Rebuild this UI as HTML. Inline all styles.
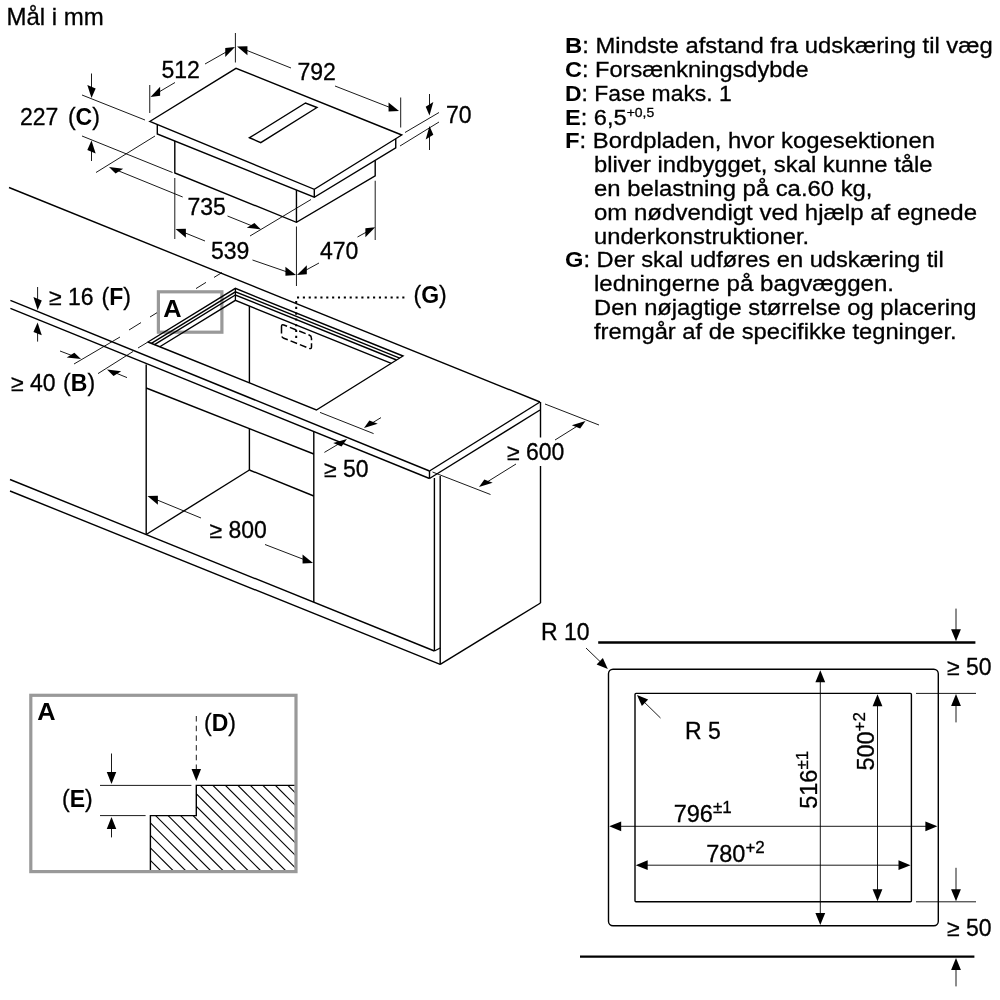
<!DOCTYPE html>
<html><head><meta charset="utf-8"><title>Mål i mm</title>
<style>
html,body{margin:0;padding:0;background:#fff;}
body{width:1000px;height:1000px;overflow:hidden;}
svg{display:block;will-change:transform;font-family:"Liberation Sans",sans-serif;}
</style></head><body>
<svg width="1000" height="1000" viewBox="0 0 1000 1000">
<rect x="0" y="0" width="1000" height="1000" fill="#fff"/>
<g stroke="#000" fill="none">
<text x="6.50" y="25.00" font-size="24" text-anchor="start" fill="#000" stroke="#000" stroke-width="0.3" >Mål i mm</text>
<path d="M149.75,121.50 L236.00,68.30 L401.75,135.00 L314.30,189.30 Z" stroke-width="1.4" fill="none" />
<path d="M157.30,124.61 L157.30,134.00 L314.30,197.25 L395.75,147.75 L395.75,138.73" stroke-width="1.4" fill="none" />
<line x1="314.30" y1="189.30" x2="314.30" y2="197.25" stroke-width="1.4" />
<path d="M174.80,141.05 L174.80,173.00 L296.45,222.30 L375.20,175.80 L375.20,160.24" stroke-width="1.4" fill="none" />
<line x1="296.45" y1="190.06" x2="296.45" y2="222.30" stroke-width="1.4" />
<path d="M249.50,137.75 L260.75,142.70 L317.00,107.50 L305.50,103.00 Z" stroke-width="1.4" fill="none" />
<line x1="235.40" y1="33.00" x2="235.40" y2="62.50" stroke-width="0.9" />
<line x1="149.75" y1="85.00" x2="149.75" y2="113.00" stroke-width="0.9" />
<line x1="175.00" y1="82.50" x2="158.21" y2="92.44" stroke-width="0.9" />
<polygon points="150.50,97.00 160.14,95.80 160.14,86.80" fill="#000" stroke="none"/>
<line x1="205.00" y1="64.00" x2="227.20" y2="51.42" stroke-width="0.9" />
<polygon points="235.00,47.00 225.26,57.02 225.26,48.02" fill="#000" stroke="none"/>
<text x="161.50" y="78.00" font-size="23" text-anchor="start" fill="#000" stroke="#000" stroke-width="0.3" >512</text>
<line x1="291.00" y1="68.00" x2="245.32" y2="49.81" stroke-width="0.9" />
<polygon points="237.00,46.50 247.41,55.14 247.41,46.14" fill="#000" stroke="none"/>
<line x1="335.00" y1="86.00" x2="390.65" y2="107.74" stroke-width="0.9" />
<polygon points="399.00,111.00 388.57,111.42 388.57,102.42" fill="#000" stroke="none"/>
<line x1="400.70" y1="97.50" x2="400.70" y2="127.50" stroke-width="0.9" />
<text x="297.50" y="80.00" font-size="23" text-anchor="start" fill="#000" stroke="#000" stroke-width="0.3" >792</text>
<line x1="405.00" y1="132.50" x2="439.00" y2="112.50" stroke-width="0.9" />
<line x1="400.00" y1="146.00" x2="439.00" y2="122.00" stroke-width="0.9" />
<line x1="429.50" y1="94.00" x2="429.50" y2="106.54" stroke-width="0.9" />
<polygon points="429.50,115.50 433.32,101.92 425.68,106.68" fill="#000" stroke="none"/>
<line x1="429.50" y1="150.00" x2="429.50" y2="134.96" stroke-width="0.9" />
<polygon points="429.50,126.00 433.32,134.82 425.68,139.58" fill="#000" stroke="none"/>
<text x="446.00" y="122.50" font-size="23" text-anchor="start" fill="#000" stroke="#000" stroke-width="0.3" >70</text>
<line x1="82.00" y1="95.00" x2="145.00" y2="120.00" stroke-width="0.9" />
<line x1="82.00" y1="136.00" x2="172.50" y2="172.50" stroke-width="0.9" />
<line x1="91.50" y1="73.50" x2="91.50" y2="89.04" stroke-width="0.9" />
<polygon points="91.50,98.00 95.67,88.49 87.33,85.11" fill="#000" stroke="none"/>
<line x1="91.50" y1="161.00" x2="91.50" y2="149.46" stroke-width="0.9" />
<polygon points="91.50,140.50 95.67,153.39 87.33,150.01" fill="#000" stroke="none"/>
<text x="20.00" y="125.20" font-size="23" text-anchor="start" fill="#000" stroke="#000" stroke-width="0.3" >227<tspan dx="9.5">(</tspan><tspan font-weight="bold" stroke="none">C</tspan>)</text>
<line x1="96.00" y1="172.50" x2="155.00" y2="136.00" stroke-width="0.9" />
<line x1="250.00" y1="236.00" x2="311.00" y2="199.50" stroke-width="0.9" />
<line x1="182.70" y1="197.00" x2="117.30" y2="170.38" stroke-width="0.9" />
<polygon points="109.00,167.00 123.19,168.84 115.55,173.60" fill="#000" stroke="none"/>
<line x1="227.50" y1="216.00" x2="252.69" y2="226.15" stroke-width="0.9" />
<polygon points="261.00,229.50 254.43,222.93 246.79,227.69" fill="#000" stroke="none"/>
<text x="187.50" y="215.00" font-size="23" text-anchor="start" fill="#000" stroke="#000" stroke-width="0.3" >735</text>
<line x1="174.80" y1="178.00" x2="174.80" y2="239.00" stroke-width="0.9" />
<line x1="296.45" y1="226.50" x2="296.45" y2="286.00" stroke-width="0.9" />
<line x1="205.00" y1="241.00" x2="183.80" y2="232.38" stroke-width="0.9" />
<polygon points="175.50,229.00 185.87,237.72 185.87,228.72" fill="#000" stroke="none"/>
<line x1="252.50" y1="260.00" x2="287.53" y2="272.08" stroke-width="0.9" />
<polygon points="296.00,275.00 285.41,275.85 285.41,266.85" fill="#000" stroke="none"/>
<text x="211.00" y="258.50" font-size="23" text-anchor="start" fill="#000" stroke="#000" stroke-width="0.3" >539</text>
<line x1="375.20" y1="180.75" x2="375.20" y2="240.00" stroke-width="0.9" />
<line x1="357.50" y1="237.00" x2="367.35" y2="231.57" stroke-width="0.9" />
<polygon points="375.20,227.25 365.39,237.15 365.39,228.15" fill="#000" stroke="none"/>
<line x1="319.00" y1="263.00" x2="304.87" y2="270.71" stroke-width="0.9" />
<polygon points="297.00,275.00 306.83,274.14 306.83,265.14" fill="#000" stroke="none"/>
<text x="320.00" y="258.75" font-size="23" text-anchor="start" fill="#000" stroke="#000" stroke-width="0.3" >470</text>
<rect x="158.4" y="291.8" width="63.5" height="40.4" fill="none" stroke="#999" stroke-width="3.2"/>
<line x1="9.00" y1="187.50" x2="540.00" y2="402.00" stroke-width="1.4" />
<line x1="10.40" y1="300.40" x2="429.50" y2="471.00" stroke-width="1.4" />
<line x1="10.40" y1="308.40" x2="429.50" y2="478.50" stroke-width="1.4" />
<line x1="429.50" y1="471.00" x2="429.50" y2="478.50" stroke-width="1.4" />
<line x1="429.50" y1="471.00" x2="540.00" y2="402.00" stroke-width="1.4" />
<line x1="429.50" y1="478.50" x2="540.00" y2="410.00" stroke-width="1.4" />
<line x1="540.50" y1="402.00" x2="540.50" y2="437.50" stroke-width="1.4" />
<line x1="540.50" y1="466.00" x2="540.50" y2="603.00" stroke-width="1.4" />
<path d="M148.00,342.00 L235.40,288.40 L403.00,356.00 L316.40,410.00 Z" stroke-width="1.4" fill="none" />
<path d="M151.34,343.35 L235.40,291.80 L399.69,358.06" stroke-width="1.4" fill="none" />
<path d="M154.49,344.62 L235.40,295.00 L396.57,360.01" stroke-width="1.4" fill="none" />
<path d="M159.80,346.76 L235.40,300.40 L391.31,363.29" stroke-width="1.4" fill="none" />
<line x1="235.40" y1="288.40" x2="235.40" y2="300.40" stroke-width="1.3" />
<line x1="249.40" y1="306.05" x2="249.40" y2="383.00" stroke-width="1.4" />
<line x1="146.20" y1="364.50" x2="146.20" y2="534.50" stroke-width="1.4" />
<line x1="146.20" y1="388.00" x2="313.80" y2="454.00" stroke-width="1.4" />
<line x1="249.40" y1="429.00" x2="249.40" y2="470.00" stroke-width="1.4" />
<line x1="249.40" y1="470.00" x2="146.20" y2="534.50" stroke-width="1.4" />
<line x1="249.40" y1="470.00" x2="313.80" y2="496.00" stroke-width="1.4" />
<line x1="313.80" y1="432.00" x2="313.80" y2="602.00" stroke-width="1.4" />
<line x1="434.40" y1="478.00" x2="434.40" y2="651.00" stroke-width="1.4" />
<line x1="440.20" y1="476.00" x2="440.20" y2="664.40" stroke-width="1.4" />
<line x1="434.40" y1="651.00" x2="440.20" y2="648.00" stroke-width="1.4" />
<line x1="440.20" y1="664.40" x2="540.50" y2="603.00" stroke-width="1.4" />
<line x1="10.00" y1="479.50" x2="434.40" y2="651.00" stroke-width="1.4" />
<line x1="10.00" y1="491.00" x2="440.20" y2="664.40" stroke-width="1.4" />
<text transform="translate(163.2,316.6) scale(1.09,1)" font-size="23.3" font-weight="bold" fill="#000" stroke="none">A</text>
<line x1="74.00" y1="364.00" x2="120.00" y2="337.00" stroke-width="0.9" />
<line x1="129.00" y1="330.00" x2="141.00" y2="322.58" stroke-width="0.9" />
<line x1="150.00" y1="317.01" x2="157.00" y2="312.69" stroke-width="0.9" />
<line x1="196.00" y1="288.57" x2="206.00" y2="282.39" stroke-width="0.9" />
<line x1="214.00" y1="277.45" x2="222.00" y2="272.50" stroke-width="0.9" />
<line x1="98.00" y1="373.60" x2="133.00" y2="351.50" stroke-width="0.9" />
<line x1="138.00" y1="348.00" x2="147.50" y2="342.30" stroke-width="0.9" />
<line x1="60.00" y1="351.00" x2="72.63" y2="355.81" stroke-width="0.9" />
<polygon points="81.00,359.00 74.35,352.63 66.72,357.39" fill="#000" stroke="none"/>
<line x1="127.00" y1="377.60" x2="115.29" y2="372.80" stroke-width="0.9" />
<polygon points="107.00,369.40 121.18,371.27 113.54,376.03" fill="#000" stroke="none"/>
<text x="11.00" y="391.00" font-size="23" text-anchor="start" fill="#000" stroke="#000" stroke-width="0.3" >≥ 40<tspan dx="7.5">(</tspan><tspan font-weight="bold" stroke="none">B</tspan>)</text>
<line x1="37.60" y1="287.00" x2="37.60" y2="301.04" stroke-width="0.9" />
<polygon points="37.60,310.00 41.77,300.49 33.43,297.11" fill="#000" stroke="none"/>
<line x1="37.60" y1="341.60" x2="37.60" y2="331.36" stroke-width="0.9" />
<polygon points="37.60,322.40 41.77,335.29 33.43,331.91" fill="#000" stroke="none"/>
<text x="49.00" y="305.30" font-size="23" text-anchor="start" fill="#000" stroke="#000" stroke-width="0.3" >≥ 16<tspan dx="8">(</tspan><tspan font-weight="bold" stroke="none">F</tspan>)</text>
<line x1="297.00" y1="297.50" x2="405.00" y2="297.50" stroke-width="2" stroke-dasharray="2.1 3.75"/>
<line x1="296.20" y1="301.00" x2="296.20" y2="339.00" stroke-width="2" stroke-dasharray="2.1 3.7"/>
<text x="413.50" y="303.00" font-size="23" text-anchor="start" fill="#000" stroke="#000" stroke-width="0.3" >(<tspan font-weight="bold" stroke="none">G</tspan>)</text>
<path d="M281.50,326.50 Q281.50,324.00 283.82,324.93 L309.18,335.07 Q311.50,336.00 311.50,338.50 L311.50,346.80 Q311.50,349.30 309.18,348.37 L283.82,338.23 Q281.50,337.30 281.50,334.80 Z" fill="none" stroke-width="1.5" stroke-dasharray="7 3"/>
<line x1="320.00" y1="412.40" x2="373.60" y2="433.60" stroke-width="0.9" />
<line x1="381.00" y1="417.60" x2="371.64" y2="423.32" stroke-width="0.9" />
<polygon points="364.00,428.00 377.73,423.84 369.38,420.47" fill="#000" stroke="none"/>
<line x1="324.40" y1="452.40" x2="339.29" y2="443.57" stroke-width="0.9" />
<polygon points="347.00,439.00 341.54,446.40 333.19,443.03" fill="#000" stroke="none"/>
<text x="324.00" y="476.70" font-size="23" text-anchor="start" fill="#000" stroke="#000" stroke-width="0.3" >≥ 50</text>
<line x1="201.00" y1="518.00" x2="155.79" y2="499.41" stroke-width="0.9" />
<polygon points="147.50,496.00 157.86,504.76 157.86,495.76" fill="#000" stroke="none"/>
<line x1="265.00" y1="544.50" x2="304.64" y2="559.78" stroke-width="0.9" />
<polygon points="313.00,563.00 302.55,563.47 302.55,554.47" fill="#000" stroke="none"/>
<text x="209.50" y="538.00" font-size="23" text-anchor="start" fill="#000" stroke="#000" stroke-width="0.3" >≥ 800</text>
<line x1="545.00" y1="404.00" x2="599.00" y2="425.00" stroke-width="0.9" />
<line x1="432.50" y1="472.00" x2="490.50" y2="494.50" stroke-width="0.9" />
<line x1="555.00" y1="440.00" x2="577.89" y2="425.74" stroke-width="0.9" />
<polygon points="585.50,421.00 580.17,428.61 571.82,425.24" fill="#000" stroke="none"/>
<line x1="516.00" y1="464.00" x2="486.61" y2="482.27" stroke-width="0.9" />
<polygon points="479.00,487.00 492.68,482.77 484.34,479.40" fill="#000" stroke="none"/>
<text x="507.00" y="460.00" font-size="23" text-anchor="start" fill="#000" stroke="#000" stroke-width="0.3" >≥ 600</text>
<rect x="30.8" y="695.3" width="265.2" height="176.3" fill="none" stroke="#999" stroke-width="3.2"/>
<text transform="translate(37.2,720.3) scale(1.09,1)" font-size="23.3" font-weight="bold" fill="#000" stroke="none">A</text>
<text x="204.00" y="731.00" font-size="23" text-anchor="start" fill="#000" stroke="#000" stroke-width="0.3" >(<tspan font-weight="bold" stroke="none">D</tspan>)</text>
<text x="62.00" y="807.40" font-size="23" text-anchor="start" fill="#000" stroke="#000" stroke-width="0.3" >(<tspan font-weight="bold" stroke="none">E</tspan>)</text>
<defs><clipPath id="hc"><path d="M150.4,870 L150.4,815.6 L196.3,815.6 L196.3,785.4 L294.4,785.4 L294.4,870 Z"/></clipPath></defs>
<g clip-path="url(#hc)" stroke-width="1.15">
<line x1="-65.00" y1="770" x2="45.00" y2="880"/>
<line x1="-52.50" y1="770" x2="57.50" y2="880"/>
<line x1="-40.00" y1="770" x2="70.00" y2="880"/>
<line x1="-27.50" y1="770" x2="82.50" y2="880"/>
<line x1="-15.00" y1="770" x2="95.00" y2="880"/>
<line x1="-2.50" y1="770" x2="107.50" y2="880"/>
<line x1="10.00" y1="770" x2="120.00" y2="880"/>
<line x1="22.50" y1="770" x2="132.50" y2="880"/>
<line x1="35.00" y1="770" x2="145.00" y2="880"/>
<line x1="47.50" y1="770" x2="157.50" y2="880"/>
<line x1="60.00" y1="770" x2="170.00" y2="880"/>
<line x1="72.50" y1="770" x2="182.50" y2="880"/>
<line x1="85.00" y1="770" x2="195.00" y2="880"/>
<line x1="97.50" y1="770" x2="207.50" y2="880"/>
<line x1="110.00" y1="770" x2="220.00" y2="880"/>
<line x1="122.50" y1="770" x2="232.50" y2="880"/>
<line x1="135.00" y1="770" x2="245.00" y2="880"/>
<line x1="147.50" y1="770" x2="257.50" y2="880"/>
<line x1="160.00" y1="770" x2="270.00" y2="880"/>
<line x1="172.50" y1="770" x2="282.50" y2="880"/>
<line x1="185.00" y1="770" x2="295.00" y2="880"/>
<line x1="197.50" y1="770" x2="307.50" y2="880"/>
<line x1="210.00" y1="770" x2="320.00" y2="880"/>
<line x1="222.50" y1="770" x2="332.50" y2="880"/>
<line x1="235.00" y1="770" x2="345.00" y2="880"/>
<line x1="247.50" y1="770" x2="357.50" y2="880"/>
<line x1="260.00" y1="770" x2="370.00" y2="880"/>
<line x1="272.50" y1="770" x2="382.50" y2="880"/>
<line x1="285.00" y1="770" x2="395.00" y2="880"/>
<line x1="297.50" y1="770" x2="407.50" y2="880"/>
</g>
<path d="M294.40,785.40 L196.30,785.40 L196.30,815.60 L150.40,815.60 L150.40,870.00" stroke-width="1.4" fill="none" />
<line x1="100.00" y1="785.40" x2="191.40" y2="785.40" stroke-width="0.9" />
<line x1="100.00" y1="815.60" x2="145.60" y2="815.60" stroke-width="0.9" />
<line x1="111.50" y1="753.50" x2="111.50" y2="774.40" stroke-width="0.9" />
<polygon points="111.50,784.00 106.75,772.00 116.25,772.00" fill="#000" stroke="none"/>
<line x1="111.50" y1="837.40" x2="111.50" y2="826.60" stroke-width="0.9" />
<polygon points="111.50,817.00 116.25,829.00 106.75,829.00" fill="#000" stroke="none"/>
<line x1="196.30" y1="716.00" x2="196.30" y2="770.00" stroke-width="0.9" stroke-dasharray="5.5 4.2"/>
<polygon points="196.30,781.00 191.55,769.00 201.05,769.00" fill="#000" stroke="none"/>
<line x1="598.20" y1="642.50" x2="975.40" y2="642.50" stroke-width="2.3" />
<line x1="580.00" y1="956.60" x2="974.40" y2="956.60" stroke-width="2.3" />
<rect x="608.5" y="669.2" width="329.8" height="256.6" rx="4.5" ry="4.5" fill="none" stroke-width="1.4"/>
<rect x="635" y="693.4" width="276.4" height="208.4" rx="1" ry="1" fill="none" stroke-width="1.4"/>
<text x="541.00" y="640.00" font-size="23" text-anchor="start" fill="#000" stroke="#000" stroke-width="0.3" >R 10</text>
<line x1="586.00" y1="648.00" x2="601.35" y2="662.78" stroke-width="0.9" />
<polygon points="607.80,669.00 596.61,664.47 602.86,657.99" fill="#000" stroke="none"/>
<line x1="660.50" y1="718.00" x2="643.40" y2="701.27" stroke-width="0.9" />
<polygon points="637.00,695.00 648.15,699.62 641.86,706.05" fill="#000" stroke="none"/>
<text x="685.00" y="739.20" font-size="23" text-anchor="start" fill="#000" stroke="#000" stroke-width="0.3" >R 5</text>
<line x1="820.30" y1="678.00" x2="820.30" y2="917.00" stroke-width="0.9" />
<polygon points="820.30,670.20 825.20,682.20 815.40,682.20" fill="#000" stroke="none"/>
<polygon points="820.30,925.00 815.40,913.00 825.20,913.00" fill="#000" stroke="none"/>
<line x1="877.50" y1="700.00" x2="877.50" y2="894.00" stroke-width="0.9" />
<polygon points="877.50,694.20 882.40,706.20 872.60,706.20" fill="#000" stroke="none"/>
<polygon points="877.50,901.20 872.60,889.20 882.40,889.20" fill="#000" stroke="none"/>
<line x1="616.00" y1="826.30" x2="930.00" y2="826.30" stroke-width="0.9" />
<polygon points="609.20,826.30 621.20,821.40 621.20,831.20" fill="#000" stroke="none"/>
<polygon points="937.40,826.30 925.40,831.20 925.40,821.40" fill="#000" stroke="none"/>
<line x1="642.00" y1="865.20" x2="903.00" y2="865.20" stroke-width="0.9" />
<polygon points="635.70,865.20 647.70,860.30 647.70,870.10" fill="#000" stroke="none"/>
<polygon points="910.50,865.20 898.50,870.10 898.50,860.30" fill="#000" stroke="none"/>
<text x="673.70" y="822.20" font-size="23.5" text-anchor="start" fill="#000" stroke="#000" stroke-width="0.3" >796<tspan font-size="17" dy="-9.3">±1</tspan></text>
<text x="706.20" y="862.40" font-size="23.5" text-anchor="start" fill="#000" stroke="#000" stroke-width="0.3" >780<tspan font-size="17" dy="-9.3">+2</tspan></text>
<text transform="translate(816.8,808.8) rotate(-90)" font-size="23.5" fill="#000" stroke="#000" stroke-width="0.3">516<tspan font-size="17" dy="-9.3">±1</tspan></text>
<text transform="translate(874.2,770.6) rotate(-90)" font-size="23.5" fill="#000" stroke="#000" stroke-width="0.3">500<tspan font-size="17" dy="-9.3">+2</tspan></text>
<line x1="956.00" y1="608.60" x2="956.00" y2="631.60" stroke-width="0.9" />
<polygon points="956.00,641.20 951.10,629.20 960.90,629.20" fill="#000" stroke="none"/>
<line x1="916.00" y1="693.40" x2="976.00" y2="693.40" stroke-width="0.9" />
<line x1="956.00" y1="722.40" x2="956.00" y2="703.60" stroke-width="0.9" />
<polygon points="956.00,694.00 960.90,706.00 951.10,706.00" fill="#000" stroke="none"/>
<text x="947.00" y="675.00" font-size="23" text-anchor="start" fill="#000" stroke="#000" stroke-width="0.3" >≥ 50</text>
<line x1="956.00" y1="867.80" x2="956.00" y2="891.60" stroke-width="0.9" />
<polygon points="956.00,901.20 951.10,889.20 960.90,889.20" fill="#000" stroke="none"/>
<line x1="916.00" y1="901.80" x2="976.00" y2="901.80" stroke-width="0.9" />
<text x="947.00" y="936.00" font-size="23" text-anchor="start" fill="#000" stroke="#000" stroke-width="0.3" >≥ 50</text>
<line x1="956.00" y1="986.40" x2="956.00" y2="967.50" stroke-width="0.9" />
<polygon points="956.00,957.90 960.90,969.90 951.10,969.90" fill="#000" stroke="none"/>
<text transform="translate(565,53.30) scale(1.0837,1)" font-size="22.0" fill="#000" stroke="#000" stroke-width="0.3"><tspan font-weight="bold" stroke="none">B</tspan>: Mindste afstand fra udskæring til væg</text>
<text transform="translate(565,77.08) scale(1.0713,1)" font-size="22.0" fill="#000" stroke="#000" stroke-width="0.3"><tspan font-weight="bold" stroke="none">C</tspan>: Forsænkningsdybde</text>
<text transform="translate(565,100.86) scale(1.0416,1)" font-size="22.0" fill="#000" stroke="#000" stroke-width="0.3"><tspan font-weight="bold" stroke="none">D</tspan>: Fase maks. 1</text>
<text transform="translate(565,124.64) scale(1.0741,1)" font-size="22.0" fill="#000" stroke="#000" stroke-width="0.3"><tspan font-weight="bold" stroke="none">E</tspan>: 6,5<tspan font-size="13" dy="-8">+0,5</tspan></text>
<text transform="translate(565,148.42) scale(1.0847,1)" font-size="22.0" fill="#000" stroke="#000" stroke-width="0.3"><tspan font-weight="bold" stroke="none">F</tspan>: Bordpladen, hvor kogesektionen</text>
<text transform="translate(594,172.20) scale(1.0821,1)" font-size="22.0" fill="#000" stroke="#000" stroke-width="0.3">bliver indbygget, skal kunne tåle</text>
<text transform="translate(594,195.98) scale(1.085,1)" font-size="22.0" fill="#000" stroke="#000" stroke-width="0.3">en belastning på ca.60 kg,</text>
<text transform="translate(594,219.76) scale(1.0921,1)" font-size="22.0" fill="#000" stroke="#000" stroke-width="0.3">om nødvendigt ved hjælp af egnede</text>
<text transform="translate(594,243.54) scale(1.0799,1)" font-size="22.0" fill="#000" stroke="#000" stroke-width="0.3">underkonstruktioner.</text>
<text transform="translate(565,267.32) scale(1.0764,1)" font-size="22.0" fill="#000" stroke="#000" stroke-width="0.3"><tspan font-weight="bold" stroke="none">G</tspan>: Der skal udføres en udskæring til</text>
<text transform="translate(594,291.10) scale(1.0957,1)" font-size="22.0" fill="#000" stroke="#000" stroke-width="0.3">ledningerne på bagvæggen.</text>
<text transform="translate(594,314.88) scale(1.0793,1)" font-size="22.0" fill="#000" stroke="#000" stroke-width="0.3">Den nøjagtige størrelse og placering</text>
<text transform="translate(594,338.66) scale(1.0787,1)" font-size="22.0" fill="#000" stroke="#000" stroke-width="0.3">fremgår af de specifikke tegninger.</text>
</g>
</svg>
</body></html>
